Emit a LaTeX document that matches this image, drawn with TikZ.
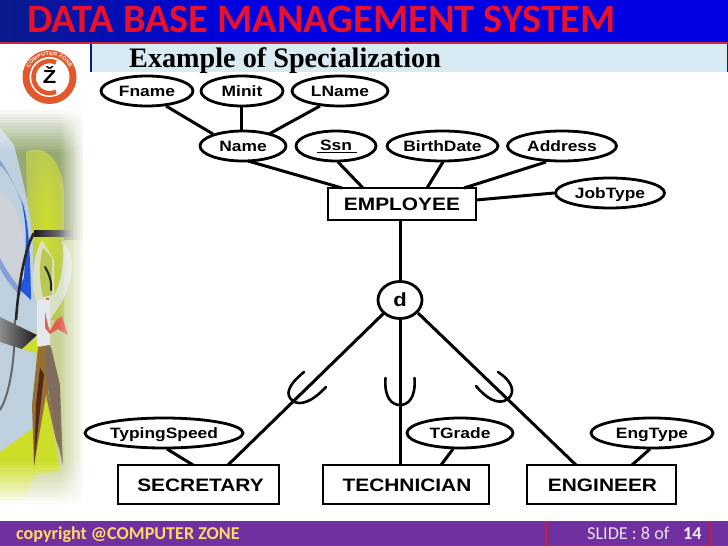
\documentclass[tikz,border=0pt]{standalone}
\usepackage{fontspec}
\usetikzlibrary{shapes.geometric,calc,decorations.text}
\newfontfamily\erfont[FakeStretch=1.16]{Liberation Sans}
\newfontfamily\slidefont{Carlito}
\newfontfamily\subfont{Liberation Serif}
\definecolor{bandblue}{HTML}{0000E0}
\definecolor{bandnavy}{HTML}{0A1C8C}
\definecolor{bandred}{HTML}{C8283C}
\definecolor{subband}{HTML}{D8EAF2}
\definecolor{footpurple}{HTML}{7030A0}
\definecolor{footyellow}{HTML}{FFD966}
\definecolor{titlered}{HTML}{E8102A}
\definecolor{logoorange}{HTML}{E2582A}
\definecolor{boxred}{HTML}{C81E3C}
\definecolor{artbase}{RGB}{200,210,150}
\definecolor{artolive}{RGB}{150,168,115}
\definecolor{artyellow}{RGB}{208,222,40}
\definecolor{artlimepale}{RGB}{185,200,85}
\definecolor{artgrayblue}{RGB}{190,208,222}
\definecolor{artpale}{RGB}{206,210,216}
\definecolor{artsoftblue}{RGB}{130,160,215}
\definecolor{artblue}{RGB}{35,85,225}
\definecolor{artwhite}{RGB}{228,232,238}
\definecolor{artlime}{RGB}{205,222,40}
\definecolor{artcoral}{RGB}{224,96,84}
\definecolor{artbrown}{RGB}{150,112,50}
\definecolor{arttaupe}{RGB}{128,108,92}
\definecolor{artdark}{RGB}{85,40,25}
\tikzset{
  attr/.style={draw=black,line width=2.8pt,fill=white,ellipse,inner sep=0pt,minimum height=30pt,
    text height=11pt,text depth=0pt,font=\erfont\bfseries\fontsize{15}{15}\selectfont},
  entity/.style={draw=black,line width=2.8pt,fill=white,rectangle,inner sep=0pt,
    text height=13pt,text depth=0pt,font=\erfont\bfseries\fontsize{18}{18}\selectfont},
  conn/.style={draw=black,line width=3pt},
  subsetmark/.style={draw=black,line width=2.6pt,line cap=round},
}
\begin{document}
\begin{tikzpicture}[x=1pt,y=-1pt]
\path[use as bounding box] (0,0) rectangle (728,546);
\fill[white] (0,0) rectangle (728,546);
% ---- left artwork ----
\begin{scope}
\clip (0,100) rectangle (90,510);
\fill[artbase] (0,105) rectangle (84,510);
\fill[artolive] (0,105) rectangle (84,240);
\shade[inner color=artyellow,outer color=artlimepale] (26,152) .. controls (48,142) and (66,165) .. (64,205) -- (64,320) -- (30,320) -- cycle;
% pale blue field
\fill[artgrayblue] (0,128) -- (14,145) .. controls (24,185) and (32,215) .. (33,250) -- (36,345) -- (37,425) -- (0,452) -- cycle;
\fill[artpale] (0,190) .. controls (12,200) and (20,215) .. (24,240) -- (24,288) .. controls (16,280) and (6,270) .. (0,262) -- cycle;
\fill[artsoftblue] (0,165) .. controls (10,175) and (18,190) .. (22,205) -- (25,208) .. controls (15,185) and (8,172) .. (0,160) -- cycle;
\fill[artsoftblue] (0,258) .. controls (6,270) and (14,282) .. (22,290) -- (20,296) .. controls (10,285) and (3,275) .. (0,268) -- cycle;
\fill[artblue] (22,202) .. controls (27,215) and (30,235) .. (31,300) -- (18,288) -- (24,278) -- (26,240) .. controls (26,225) and (24,215) .. (22,202) -- cycle;
% flame
\fill[artwhite,opacity=0.75] (42,240) .. controls (30,262) and (32,290) .. (38,310) -- (37,345) -- (50,345) -- (50,320) .. controls (60,305) and (72,290) .. (72,262) .. controls (70,250) and (66,243) .. (62,240) .. controls (66,262) and (60,285) .. (54,295) -- (54,260) -- cycle;
\fill[artlimepale] (43,248) .. controls (38,265) and (40,285) .. (43,297) -- (52,295) -- (52,258) -- cycle;
\draw[black!85,line width=2pt,line cap=round] (45,267) .. controls (48,272) and (52,280) .. (51,290);
\fill[artcoral] (46,298) -- (49,298) -- (48,306) -- cycle;
\fill[artgrayblue] (14,300) rectangle (37,330);
% black strokes
\shade[left color=black!90,right color=black!40] (34,230) rectangle (72,236);
\draw[black!85,line width=2.6pt] (16,320) .. controls (18,290) and (24,250) .. (34,233);
\draw[black!60,line width=2pt] (15,320) .. controls (15,350) and (12,390) .. (0,410);
\shade[left color=black!45,right color=black!90] (0,317) -- (37,335) -- (22,349) -- (0,342) -- cycle;
\fill[artlime] (22,349) -- (37,337) -- (37,353) -- cycle;
% figure
\fill[artwhite] (37,300) -- (50,300) -- (50,346) -- (37,346) -- cycle;
\fill[artcoral] (45,312) -- (48,325) -- (50,331) -- (56,320) -- (62,316) -- (68,335) -- (58,329) -- (50,334) -- (45,328) -- cycle;
% lower lime
\fill[artlime] (0,452) -- (37,425) -- (44,385) -- (60,470) -- (60,510) -- (0,510) -- cycle;
\fill[artbase] (20,510) -- (35,475) -- (60,470) -- (60,510) -- cycle;
% legs
\fill[artbrown] (38,347) -- (50,345) -- (54,370) -- (46,395) -- (34,466) -- (32,405) -- cycle;
\fill[arttaupe] (46,345) -- (51,347) -- (60,385) -- (63,466) -- (52,415) -- (46,375) -- cycle;
\fill[artbrown] (44,375) -- (47,400) -- (56,440) -- (60,450) -- (52,415) -- (47,385) -- cycle;
\fill[artdark] (40,368) -- (44,374) -- (34,466) -- (36,405) -- cycle;
\end{scope}
% soft white edges of the artwork (linear fade from nested veils)
\foreach \i in {0,...,13} {
  \pgfmathsetmacro{\veil}{1/(14-\i)}
  \fill[white,opacity=\veil] ({60+1.8*\i},100) rectangle (92,512);
  \fill[white,opacity=\veil] (0,100) rectangle (92,{152-3.2*\i});
  \fill[white,opacity=\veil] (0,{462+3.2*\i}) rectangle (92,512);
}
% ---- header ----
\shade[left color=bandnavy,right color=bandblue] (0,0) rectangle (240,42);
\fill[bandblue] (240,0) rectangle (728,42);
\fill[bandred] (0,41.5) rectangle (728,44);
\fill[subband] (90,44) rectangle (728,72);
\fill[bandnavy] (90,44) rectangle (92,72);
\fill[bandnavy] (726.5,44) rectangle (728,72);
\node[anchor=base west,inner sep=0pt,text=titlered,font=\slidefont\bfseries\fontsize{40.3}{40.3}\selectfont] (title) at (27,32.5) {DATA BASE MANAGEMENT SYSTEM};
\node[anchor=base west,inner sep=0pt,text=black,font=\subfont\bfseries\fontsize{28.2}{28.2}\selectfont] (subtitle) at (129,67) {Example of Specialization};
% ---- logo ----
\fill[logoorange] (49.5,77) circle (27);
\fill[white] (49.5,77) circle (20);
\draw[logoorange,line width=4.5pt] (56,62.5) arc[start angle=66,end angle=294,radius=16pt];
\node[inner sep=0pt,text=black,font=\erfont\bfseries\fontsize{19}{19}\selectfont] (logoz) at (49.5,75) {Ž};
\path[postaction={decorate},decoration={text along path,text align=center,
  text={|\erfont\bfseries\fontsize{5}{5}\selectfont\color{white}|COMPUTER ZONE}}] (27.5,79) arc[start angle=185,end angle=-5,radius=22pt];
% ---- footer ----
\fill[footpurple] (0,521) rectangle (728,546);
\draw[boxred,line width=1.8pt] (546,521.5) rectangle (711,545.5);
\node[anchor=base west,inner sep=0pt,text=footyellow,font=\slidefont\bfseries\fontsize{18.1}{18.1}\selectfont] (copy) at (16,539) {copyright @COMPUTER ZONE};
\node[anchor=base west,inner sep=0pt,text=white!85!footpurple,font=\slidefont\fontsize{18.2}{18.2}\selectfont] (slide) at (587,539) {SLIDE : 8 of};
\node[anchor=base west,inner sep=0pt,text=white!92!footpurple,font=\slidefont\bfseries\fontsize{18.2}{18.2}\selectfont] (slidenum) at (683,539) {14};
% ---- nodes ----
\node[attr,minimum width=92pt] (fname) at (147,91) {Fname};
\node[attr,minimum width=82pt] (minit) at (242,91) {Minit};
\node[attr,minimum width=96pt] (lname) at (340,91) {LName};
\node[attr,minimum width=86pt] (name) at (243,146) {Name};
\node[attr,minimum width=80pt] (ssn) at (336,146) {\raisebox{1.5pt}{Ssn}};
\node[attr,minimum width=111pt] (birth) at (442.5,146) {BirthDate};
\node[attr,minimum width=109pt] (address) at (562,146) {Address};
\node[attr,minimum width=109pt] (jobtype) at (610,193) {JobType};
\node[entity,minimum width=148pt,minimum height=32pt] (emp) at (402,204) {EMPLOYEE};
\node[draw=black,line width=2.8pt,fill=white,ellipse,minimum width=44pt,minimum height=37pt,inner sep=0pt,
  font=\erfont\bfseries\fontsize{19}{19}\selectfont] (d) at (400,300) {d};
\node[attr,minimum width=158pt] (typing) at (164,433) {TypingSpeed};
\node[attr,minimum width=106pt] (tgrade) at (460,433) {TGrade};
\node[attr,minimum width=122pt] (engtype) at (652,433) {EngType};
\node[entity,minimum width=161pt,minimum height=39pt] (sec) at (198.5,484.5) {\hspace{4pt}SECRETARY};
\node[entity,minimum width=166pt,minimum height=39pt] (tech) at (406,484.5) {\hspace{2pt}TECHNICIAN};
\node[entity,minimum width=149pt,minimum height=39pt] (eng) at (601.5,484.5) {\hspace{2pt}ENGINEER};
% Ssn underline
\coordinate (ssnl) at ($(ssn)+(-19,6.5)$);
\coordinate (ssnr) at ($(ssn)+(21,6.5)$);
\draw[black,line width=1.3pt] (ssnl) -- (ssnr);
% ---- connectors ----
\draw[conn] ($(fname)+(19,15)$) -- ($(name)+(-30,-12)$);
\draw[conn] ($(minit)+(-1,15)$) -- ($(name)+(-2,-15)$);
\draw[conn] ($(lname)+(-20,15)$) -- ($(name)+(26,-12)$);
\draw[conn] ($(name)+(5,15)$) -- ($(emp)+(-60,-16)$);
\draw[conn] ($(ssn)+(2,16)$) -- ($(emp)+(-39,-16)$);
\draw[conn] ($(birth)+(0.5,16)$) -- ($(emp)+(25,-16)$);
\draw[conn] ($(address)+(-16,16)$) -- ($(emp)+(62,-16)$);
\draw[conn] (jobtype.west) -- ($(emp)+(74,-4)$);
\draw[conn] ($(emp)+(-2,16)$) -- (d.north);
\draw[conn] ($(d)+(-16,13)$) -- ($(sec)+(29.5,-19.5)$);
\draw[conn] (d.south) -- ($(tech)+(-6,-19.5)$);
\draw[conn] ($(d)+(18,13)$) -- ($(eng)+(-25.5,-19.5)$);
\draw[conn] ($(typing)+(3,16)$) -- ($(sec)+(-5.5,-19.5)$);
\draw[conn] ($(tgrade)+(-7,16)$) -- ($(tech)+(35,-19.5)$);
\draw[conn] ($(engtype)+(-2,16)$) -- ($(eng)+(30.5,-19.5)$);
% ---- subset marks ----
\draw[subsetmark] (304,372) .. controls (287,386) and (285,395) .. (293,401) .. controls (300,406) and (312,402) .. (326,387);
\draw[subsetmark] (385.5,378) .. controls (384,398) and (392,405) .. (400,405) .. controls (408,405) and (416,398) .. (414.5,378);
\draw[subsetmark] (476,386) .. controls (486,398) and (498,406) .. (508,399) .. controls (516,392) and (512,381) .. (498,372);
\end{tikzpicture}
\end{document}
